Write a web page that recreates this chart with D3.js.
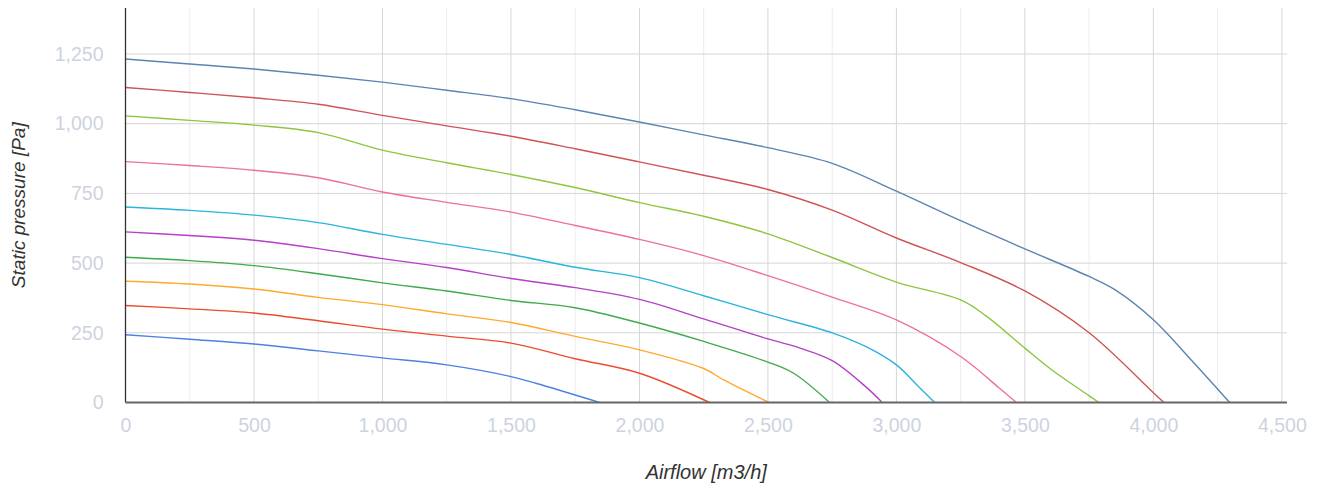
<!DOCTYPE html>
<html>
<head>
<meta charset="utf-8">
<script src="https://cdn.jsdelivr.net/npm/d3@7"></script>
<style>
  body { margin: 0; background: #fff; }
  svg { display: block; font-family: Arial, 'Liberation Sans', sans-serif; }
</style>
</head>
<body>
<script>
// fan curves, airflow [m3/h] vs static pressure [Pa]
const curve1  = [[0,1232],[250,1214],[500,1196],[750,1174],[1000,1149],[1250,1120],[1500,1090],[1750,1050],[2000,1006],[2250,960],[2500,914],[2750,858],[3000,758],[3250,652],[3500,551],[3750,452],[3850,405],[4000,297],[4150,150],[4297,0]]
const curve2  = [[0,1130],[250,1112],[500,1093],[750,1070],[1000,1030],[1250,992],[1500,955],[1750,910],[2000,863],[2250,815],[2500,764],[2750,690],[3000,590],[3250,502],[3500,400],[3750,250],[4000,35],[4041,0]]
const curve3  = [[0,1028],[250,1012],[500,995],[750,968],[1000,905],[1250,860],[1500,818],[1750,771],[2000,717],[2250,668],[2500,605],[2750,520],[3000,432],[3250,368],[3350,310],[3500,195],[3600,120],[3750,24],[3788,0]]
const curve4  = [[0,864],[250,850],[500,833],[750,806],[1000,755],[1250,718],[1500,683],[1750,635],[2000,585],[2250,527],[2500,455],[2750,378],[3000,296],[3250,165],[3400,52],[3467,0]]
const curve5  = [[0,701],[250,689],[500,672],[750,645],[1000,603],[1250,567],[1500,531],[1750,485],[2000,448],[2250,383],[2500,315],[2750,250],[2880,201],[3000,135],[3080,63],[3149,0]]
const curve6  = [[0,612],[250,599],[500,582],[750,552],[1000,516],[1250,484],[1500,445],[1750,412],[2000,370],[2250,300],[2500,228],[2625,195],[2750,150],[2880,57],[2945,0]]
const curve7  = [[0,521],[250,509],[500,491],[750,462],[1000,429],[1250,400],[1500,366],[1750,340],[2000,285],[2250,219],[2500,145],[2600,105],[2740,0]]
const curve8  = [[0,435],[250,425],[500,407],[750,377],[1000,351],[1250,318],[1500,287],[1750,237],[2000,189],[2250,122],[2330,80],[2504,0]]
const curve9  = [[0,348],[250,336],[500,321],[750,293],[1000,263],[1250,238],[1500,213],[1750,157],[2000,105],[2273,0]]
const curve10 = [[0,243],[250,227],[500,210],[750,185],[1000,160],[1250,135],[1500,93],[1600,68],[1845,0]]

const curves = [curve1, curve2, curve3, curve4, curve5, curve6, curve7, curve8, curve9, curve10]
const colors = ['#5b84b1', '#cf5356', '#8dc63f', '#ec719b', '#2ab4de', '#b640c8', '#3dab4a', '#ffa92d', '#ec4b2d', '#4d80e2']

const xTicks = [0, 500, 1000, 1500, 2000, 2500, 3000, 3500, 4000, 4500]
const xMinorTicks = [250, 750, 1250, 1750, 2250, 2750, 3250, 3750, 4250]
const yTicks = [0, 250, 500, 750, 1000, 1250]

const width = 1324
const height = 488

const svg = d3.select('body').append('svg')
  .attr('width', width)
  .attr('height', height)

const x = d3.scaleLinear().domain([0, 4520]).range([125.5, 1287])
const y = d3.scaleLinear().domain([0, 1415]).range([402.5, 8])

// grid
const grid = svg.append('g')
grid.selectAll('line.minor')
  .data(xMinorTicks).enter().append('line')
  .attr('x1', d => x(d)).attr('x2', d => x(d))
  .attr('y1', y(0)).attr('y2', y(1415))
  .style('stroke', '#ececec').style('stroke-width', 1)
grid.selectAll('line.major')
  .data(xTicks.slice(1)).enter().append('line')
  .attr('x1', d => x(d)).attr('x2', d => x(d))
  .attr('y1', y(0)).attr('y2', y(1415))
  .style('stroke', '#d6d6d6').style('stroke-width', 1)
grid.selectAll('line.h')
  .data(yTicks.slice(1)).enter().append('line')
  .attr('x1', x(0)).attr('x2', x(4520))
  .attr('y1', d => y(d)).attr('y2', d => y(d))
  .style('stroke', '#d6d6d6').style('stroke-width', 1)

// curves
const line = d3.line()
  .x(d => x(d[0]))
  .y(d => y(d[1]))
  .curve(d3.curveCatmullRom.alpha(0.5))

svg.append('g').selectAll('path')
  .data(curves).enter().append('path')
  .attr('d', d => line(d))
  .style('fill', 'none')
  .style('stroke', (d, i) => colors[i])
  .style('stroke-width', 1.4)

// axes
const fmt = d3.format(',')
const xaxis = d3.axisBottom(x).tickValues(xTicks).tickFormat(fmt).tickSize(0).tickPadding(16)
const yaxis = d3.axisLeft(y).tickValues(yTicks).tickFormat(fmt).tickSize(0).tickPadding(22)

svg.append('g')
  .attr('class', 'axis')
  .attr('transform', 'translate(0,' + y(0) + ')')
  .call(xaxis)
svg.append('g')
  .attr('class', 'axis')
  .attr('transform', 'translate(' + x(0) + ',0)')
  .call(yaxis)

svg.selectAll('.axis path').remove()
svg.selectAll('.axis text')
  .style('fill', '#cdd3e0')
  .style('font-size', '19.5px')
  .style('font-family', 'Arial, "Liberation Sans", sans-serif')

// axis lines
svg.append('line')
  .attr('x1', x(0)).attr('x2', x(0))
  .attr('y1', y(1415)).attr('y2', y(0))
  .style('stroke', '#333').style('stroke-width', 1.3)
svg.append('line')
  .attr('x1', x(0)).attr('x2', x(4520))
  .attr('y1', y(0)).attr('y2', y(0))
  .style('stroke', '#666').style('stroke-width', 2)

// titles
svg.append('text')
  .attr('x', (x(0) + x(4520)) / 2)
  .attr('y', 479)
  .attr('text-anchor', 'middle')
  .style('font-style', 'italic')
  .style('font-size', '20px')
  .style('fill', '#333')
  .text('Airflow [m3/h]')

svg.append('text')
  .attr('transform', 'translate(25,' + ((y(0) + y(1415)) / 2) + ') rotate(-90)')
  .attr('text-anchor', 'middle')
  .style('font-style', 'italic')
  .style('font-size', '19px')
  .style('fill', '#333')
  .text('Static pressure [Pa]')
</script>
</body>
</html>
